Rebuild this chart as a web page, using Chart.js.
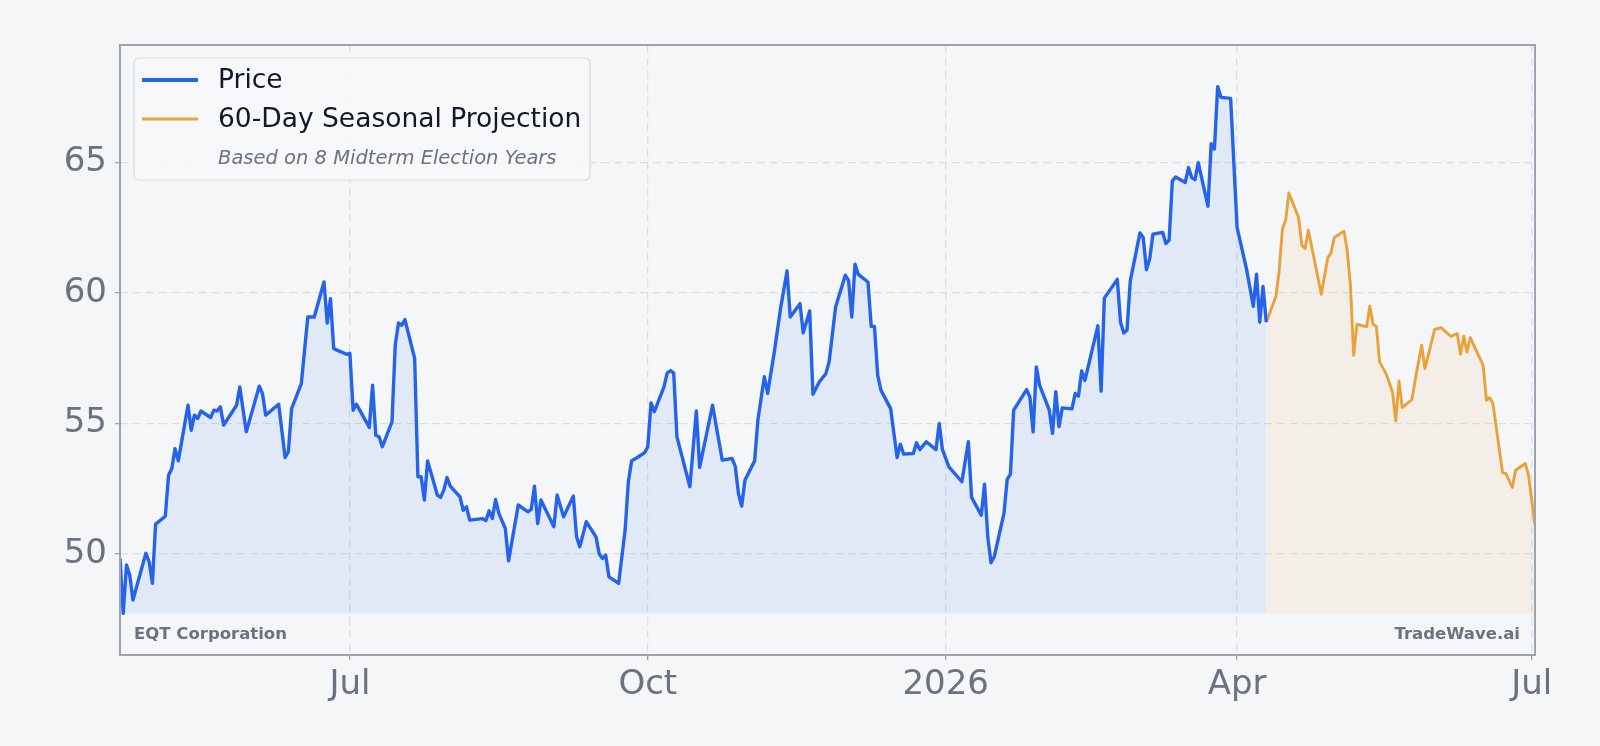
<!DOCTYPE html>
<html>
<head>
<meta charset="utf-8">
<script src="https://cdn.jsdelivr.net/npm/chart.js"></script>
<style>
  html, body { margin: 0; padding: 0; background: #f4f6f8; }
  canvas { display: block; }
</style>
</head>
<body>
<canvas id="chart" width="1600" height="746"></canvas>
<script>
// EQT daily close
const priceDates = [
  '2025-04-21','2025-04-22','2025-04-23','2025-04-24','2025-04-25','2025-04-29','2025-04-30','2025-05-01','2025-05-02',
  '2025-05-05','2025-05-06','2025-05-07','2025-05-08','2025-05-09','2025-05-12','2025-05-13','2025-05-14','2025-05-15',
  '2025-05-16','2025-05-19','2025-05-20','2025-05-21','2025-05-22','2025-05-23','2025-05-27','2025-05-28','2025-05-30',
  '2025-06-03','2025-06-04','2025-06-05','2025-06-09','2025-06-11','2025-06-12','2025-06-13','2025-06-16','2025-06-18',
  '2025-06-20','2025-06-23','2025-06-24','2025-06-25','2025-06-26','2025-06-27','2025-06-30','2025-07-01','2025-07-02',
  '2025-07-03','2025-07-07','2025-07-08','2025-07-09','2025-07-10','2025-07-11','2025-07-14','2025-07-15','2025-07-16',
  '2025-07-17','2025-07-18','2025-07-21','2025-07-22','2025-07-23','2025-07-24','2025-07-25','2025-07-28','2025-07-29',
  '2025-07-30','2025-07-31','2025-08-01','2025-08-04','2025-08-05','2025-08-06','2025-08-07','2025-08-11','2025-08-12',
  '2025-08-13','2025-08-14','2025-08-15','2025-08-16','2025-08-18','2025-08-19','2025-08-22','2025-08-25','2025-08-26',
  '2025-08-27','2025-08-28','2025-08-29','2025-09-02','2025-09-03','2025-09-05','2025-09-08','2025-09-09','2025-09-10',
  '2025-09-12','2025-09-15','2025-09-16','2025-09-17','2025-09-18','2025-09-19','2025-09-22','2025-09-24','2025-09-25',
  '2025-09-26','2025-09-28','2025-09-30','2025-10-01','2025-10-02','2025-10-03','2025-10-06','2025-10-07','2025-10-08',
  '2025-10-09','2025-10-10','2025-10-14','2025-10-16','2025-10-17','2025-10-21','2025-10-24','2025-10-27','2025-10-28',
  '2025-10-29','2025-10-30','2025-10-31','2025-11-03','2025-11-04','2025-11-06','2025-11-07','2025-11-09','2025-11-11',
  '2025-11-13','2025-11-14','2025-11-17','2025-11-18','2025-11-20','2025-11-21','2025-11-23','2025-11-25','2025-11-26',
  '2025-11-28','2025-12-01','2025-12-02','2025-12-03','2025-12-04','2025-12-05','2025-12-08','2025-12-09','2025-12-10',
  '2025-12-11','2025-12-12','2025-12-15','2025-12-17','2025-12-18','2025-12-19','2025-12-22','2025-12-23','2025-12-24',
  '2025-12-26','2025-12-29','2025-12-30','2025-12-31','2026-01-02','2026-01-06','2026-01-08','2026-01-09','2026-01-12',
  '2026-01-13','2026-01-14','2026-01-15','2026-01-16','2026-01-19','2026-01-20','2026-01-21','2026-01-22','2026-01-26',
  '2026-01-27','2026-01-28','2026-01-29','2026-01-30','2026-02-02','2026-02-03','2026-02-04','2026-02-05','2026-02-06',
  '2026-02-09','2026-02-10','2026-02-11','2026-02-12','2026-02-13','2026-02-17','2026-02-18','2026-02-19','2026-02-23',
  '2026-02-24','2026-02-25','2026-02-26','2026-02-27','2026-03-02','2026-03-03','2026-03-04','2026-03-05','2026-03-06',
  '2026-03-09','2026-03-10','2026-03-11','2026-03-12','2026-03-13','2026-03-16','2026-03-17','2026-03-18','2026-03-19',
  '2026-03-20','2026-03-23','2026-03-24','2026-03-25','2026-03-26','2026-03-27','2026-03-30','2026-04-01','2026-04-04',
  '2026-04-06','2026-04-07','2026-04-08','2026-04-09','2026-04-10'
];
const priceValues = [
  49.83,47.73,49.58,49.20,48.24,50.03,49.70,48.88,51.15,
  51.45,53.02,53.28,54.04,53.57,55.70,54.74,55.32,55.19,
  55.48,55.23,55.51,55.48,55.64,54.94,55.70,56.40,54.68,
  56.43,56.15,55.32,55.74,53.70,53.92,55.57,56.53,59.08,
  59.08,60.42,58.85,59.78,57.87,57.81,57.65,57.68,55.51,
  55.74,54.85,56.47,54.55,54.49,54.11,55.06,58.00,58.85,
  58.76,58.98,57.49,52.96,52.96,52.07,53.57,52.26,52.17,
  52.45,52.93,52.60,52.19,51.68,51.81,51.30,51.36,51.28,
  51.66,51.36,52.09,51.56,50.98,49.74,51.88,51.62,51.71,
  52.60,51.17,52.07,51.05,52.26,51.43,52.22,50.66,50.28,
  51.24,50.66,50.00,49.83,49.96,49.13,48.88,50.92,52.77,
  53.57,53.72,53.88,54.11,55.79,55.45,56.40,56.94,57.02,
  56.94,54.49,52.58,55.48,53.32,55.70,53.60,53.66,53.37,
  52.32,51.84,52.83,53.57,55.13,56.79,56.15,57.68,59.40,
  60.84,59.08,59.59,58.47,59.31,56.12,56.60,56.91,57.36,
  59.46,60.68,60.48,59.08,61.10,60.71,60.42,58.72,58.72,
  56.85,56.28,55.57,53.70,54.21,53.83,53.85,54.26,54.00,
  54.30,54.00,55.00,54.00,53.34,52.77,54.30,52.17,51.49,
  52.68,50.66,49.67,49.90,51.56,52.86,53.06,55.51,56.30,
  56.02,54.68,57.17,56.47,55.51,54.62,56.22,54.88,55.60,
  55.56,56.15,56.05,57.01,56.65,58.74,56.24,59.80,60.52,
  58.88,58.47,58.57,60.45,62.30,62.12,60.89,61.30,62.25,
  62.32,61.89,62.02,64.28,64.44,64.23,64.80,64.41,64.34,
  64.99,63.32,65.71,65.51,67.90,67.49,67.45,62.50,60.86,
  59.49,60.72,58.88,60.25,58.88
];

// 60-day seasonal projection
const projDates = [
  '2026-04-10','2026-04-13','2026-04-14','2026-04-15','2026-04-16','2026-04-17','2026-04-20','2026-04-21','2026-04-22',
  '2026-04-23','2026-04-27','2026-04-29','2026-04-30','2026-05-01','2026-05-04','2026-05-05','2026-05-06','2026-05-07',
  '2026-05-08','2026-05-11','2026-05-12','2026-05-13','2026-05-14','2026-05-15','2026-05-17','2026-05-19','2026-05-20',
  '2026-05-21','2026-05-22','2026-05-25','2026-05-26','2026-05-28','2026-05-29','2026-06-01','2026-06-03','2026-06-06',
  '2026-06-08','2026-06-09','2026-06-10','2026-06-11','2026-06-12','2026-06-16','2026-06-17','2026-06-18','2026-06-19',
  '2026-06-22','2026-06-23','2026-06-25','2026-06-26','2026-06-29','2026-06-30','2026-07-02'
];
const projValues = [
  58.88,59.87,60.87,62.46,62.78,63.83,62.88,61.82,61.70,
  62.40,59.95,61.35,61.53,62.12,62.36,61.63,60.29,57.61,
  58.80,58.70,59.49,58.80,58.72,57.36,56.91,56.21,55.10,
  56.63,55.61,55.92,56.68,58.00,57.10,58.60,58.67,58.34,
  58.44,57.65,58.34,57.74,58.29,57.23,55.89,55.99,55.77,
  53.11,53.09,52.55,53.21,53.47,53.02,51.10
];

const xTickDates = ['2025-07-01', '2025-10-01', '2026-01-01', '2026-04-01', '2026-07-01'];
const xTickLabels = ['Jul', 'Oct', '2026', 'Apr', 'Jul'];
const yTicks = [50, 55, 60, 65];

const toDay = s => {
  const [y, m, d] = s.split('-').map(Number);
  return Date.UTC(y, m - 1, d) / 86400000;
};

const allValues = priceValues.concat(projValues);
const lo = Math.min(...allValues);
const hi = Math.max(...allValues);
const pad = (hi - lo) * 0.079;
const fillBase = Math.min(...priceValues);

const FONT = "'DejaVu Sans', sans-serif";
const GREY = '#6b7280';

const frameAndNotes = {
  id: 'frameAndNotes',
  afterDraw(chart) {
    const { ctx, chartArea: a } = chart;
    ctx.save();
    // frame on all four sides
    ctx.strokeStyle = '#9ca3af';
    ctx.lineWidth = 2;
    ctx.strokeRect(a.left, a.top, a.right - a.left, a.bottom - a.top);

    // corner labels
    ctx.fillStyle = GREY;
    ctx.font = "bold 16.5px " + FONT;
    ctx.textBaseline = 'middle';
    ctx.textAlign = 'left';
    ctx.fillText('EQT Corporation', a.left + 14, a.bottom - 20);
    ctx.textAlign = 'right';
    ctx.fillText('TradeWave.ai', a.right - 15, a.bottom - 20);

    // legend box
    const bx = 134, by = 58, bw = 456, bh = 122, r = 5;
    ctx.beginPath();
    ctx.moveTo(bx + r, by);
    ctx.arcTo(bx + bw, by, bx + bw, by + bh, r);
    ctx.arcTo(bx + bw, by + bh, bx, by + bh, r);
    ctx.arcTo(bx, by + bh, bx, by, r);
    ctx.arcTo(bx, by, bx + bw, by, r);
    ctx.closePath();
    ctx.fillStyle = 'rgba(246,247,249,0.92)';
    ctx.fill();
    ctx.strokeStyle = '#d7dbe1';
    ctx.lineWidth = 1.2;
    ctx.stroke();

    ctx.lineCap = 'butt';
    ctx.strokeStyle = '#2563eb';
    ctx.lineWidth = 3.8;
    ctx.beginPath(); ctx.moveTo(142, 80); ctx.lineTo(198, 80); ctx.stroke();
    ctx.strokeStyle = '#e9a23b';
    ctx.lineWidth = 3.2;
    ctx.beginPath(); ctx.moveTo(142, 119); ctx.lineTo(198, 119); ctx.stroke();

    ctx.textAlign = 'left';
    ctx.fillStyle = '#111827';
    ctx.font = "26.5px " + FONT;
    ctx.fillText('Price', 218, 81);
    ctx.fillText('60-Day Seasonal Projection', 218, 120);
    ctx.fillStyle = GREY;
    ctx.font = "italic 19.5px " + FONT;
    ctx.fillText('Based on 8 Midterm Election Years', 218, 159);
    ctx.restore();
  }
};

new Chart(document.getElementById('chart'), {
  type: 'line',
  data: {
    datasets: [
      {
        label: 'Price',
        data: priceDates.map((d, i) => ({ x: toDay(d), y: priceValues[i] })),
        borderColor: '#2563eb',
        backgroundColor: 'rgba(37,99,235,0.085)',
        borderWidth: 3.4,
        pointRadius: 0,
        tension: 0,
        borderJoinStyle: 'round',
        fill: { target: { value: fillBase } }
      },
      {
        label: '60-Day Seasonal Projection',
        data: projDates.map((d, i) => ({ x: toDay(d), y: projValues[i] })),
        borderColor: '#e9a23b',
        backgroundColor: 'rgba(232,163,61,0.09)',
        borderWidth: 2.9,
        pointRadius: 0,
        tension: 0,
        borderJoinStyle: 'round',
        fill: { target: { value: fillBase } }
      }
    ]
  },
  options: {
    responsive: false,
    devicePixelRatio: 1,
    animation: false,
    layout: { padding: { top: 45, right: 65, left: 0, bottom: 0 } },
    plugins: {
      legend: { display: false },
      tooltip: { enabled: false }
    },
    scales: {
      x: {
        type: 'linear',
        min: toDay(priceDates[0]),
        max: toDay(projDates[projDates.length - 1]),
        afterBuildTicks: s => { s.ticks = xTickDates.map(d => ({ value: toDay(d) })); },
        afterFit: s => { s.height = 91; },
        grid: { color: '#dadee5', lineWidth: 1.3, tickLength: 5, tickColor: '#9ca3af', tickBorderDash: [] },
        border: { display: false, dash: [8, 5] },
        ticks: {
          autoSkip: false,
          maxRotation: 0,
          padding: 5,
          color: GREY,
          font: { family: FONT, size: 34 },
          callback: (v, i) => xTickLabels[i]
        }
      },
      y: {
        min: lo - pad,
        max: hi + pad,
        afterBuildTicks: s => { s.ticks = yTicks.map(v => ({ value: v })); },
        afterFit: s => { s.width = 120; },
        grid: { color: '#dadee5', lineWidth: 1.3, tickLength: 5, tickColor: '#9ca3af', tickBorderDash: [] },
        border: { display: false, dash: [8, 5] },
        ticks: {
          padding: 8,
          color: GREY,
          font: { family: FONT, size: 34 },
          callback: v => String(v)
        }
      }
    }
  },
  plugins: [frameAndNotes]
});
</script>
</body>
</html>
